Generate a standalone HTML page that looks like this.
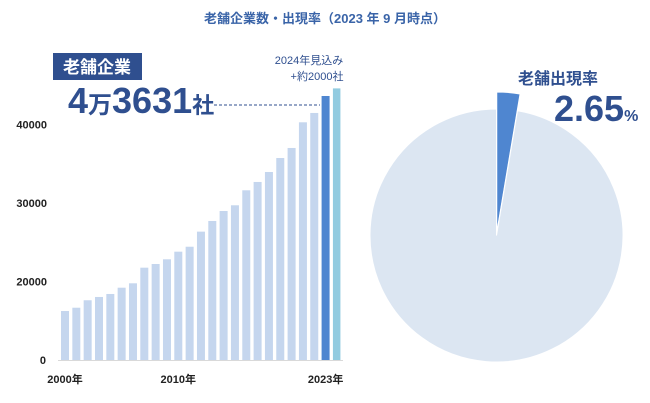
<!DOCTYPE html>
<html><head><meta charset="utf-8">
<style>
body{margin:0;width:650px;height:403px;background:#fff;overflow:hidden;font-family:"Liberation Sans","Noto Sans CJK JP",sans-serif;}
svg{display:block}
</style></head>
<body>
<svg width="650" height="403" viewBox="0 0 650 403" id="chart">
<text x="325" y="23" text-anchor="middle" font-size="13" font-weight="bold" fill="#3a64a8">老舗企業数・出現率（2023 年 9 月時点）</text>
<rect x="53" y="53" width="89" height="27" fill="#2f4f8f"/>
<text x="97" y="73" text-anchor="middle" font-size="17" font-weight="bold" fill="#fff">老舗企業</text>
<text x="68" y="113" font-size="36" font-weight="bold" fill="#2f4f8f">4<tspan font-size="24">万</tspan>3631<tspan font-size="22">社</tspan></text>
<line x1="214" y1="105" x2="320" y2="105" stroke="#2f4f8f" stroke-dasharray="3,2" stroke-width="1"/>
<text x="309" y="64" text-anchor="middle" font-size="11" fill="#2f4f8f">2024年見込み</text>
<text x="317" y="80" text-anchor="middle" font-size="11" fill="#2f4f8f">+約2000社</text>
<g id="bars"></g>
<g id="yticks"></g>
<g id="xlabels"></g>
<g id="pie"></g>
<text x="558" y="84" text-anchor="middle" font-size="16" font-weight="bold" fill="#2f4f8f">老舗出現率</text>
<text x="554" y="121" font-size="36" font-weight="bold" fill="#2f4f8f">2.65<tspan font-size="16">%</tspan></text>
</svg>
<script>
const years=["2000","2001","2002","2003","2004","2005","2006","2007","2008","2009","2010","2011","2012","2013","2014","2015","2016","2017","2018","2019","2020","2021","2022","2023","2024"];
const counts=[16240,16660,17610,18030,18410,19210,19770,21760,22230,22830,23800,24430,26350,27710,28980,29710,31620,32680,33950,35730,37010,40280,41470,43631,44600];
const tickValues=[10000,20000,30000,40000];
const tickLabels=["0","20000","30000","40000"];
const xLabelIdx=[0,10,23];
const xLabelText=["2000年","2010年","2023年"];
const pieShare=[2.65,97.35];
const NS="http://www.w3.org/2000/svg";
function y(v){return 360-(v-10000)*0.00785;}
function x(i){return 61+i*11.33;}
const bars=document.getElementById('bars');
const base=document.createElementNS(NS,'line');
base.setAttribute('x1',58);base.setAttribute('x2',343);base.setAttribute('y1',360.5);base.setAttribute('y2',360.5);base.setAttribute('stroke','#d9d9d9');


bars.appendChild(base);
counts.forEach((c,i)=>{
 const r=document.createElementNS(NS,'rect');
 r.setAttribute('x',x(i));r.setAttribute('width',i==24?7.5:8);
 r.setAttribute('y',y(c));r.setAttribute('height',360-y(c));
 r.setAttribute('fill',i==23?'#4f86d0':(i==24?'#92cbe0':'#c5d6ee'));
 
 
 bars.appendChild(r);
});
const yt=document.getElementById('yticks');
tickValues.forEach((v,i)=>{
 const t=document.createElementNS(NS,'text');
 t.setAttribute('x',i==0?46:47);t.setAttribute('y',y(v)+4);
 t.setAttribute('text-anchor','end');
 t.setAttribute('font-size','11');t.setAttribute('font-weight','bold');t.setAttribute('fill','#222');
 t.textContent=tickLabels[i];
 
 
 yt.appendChild(t);
});
const xl=document.getElementById('xlabels');
xLabelIdx.forEach((idx,i)=>{
 const t=document.createElementNS(NS,'text');
 t.setAttribute('x',x(idx)+4);t.setAttribute('y',383);t.setAttribute('text-anchor','middle');
 t.setAttribute('font-size','11');t.setAttribute('font-weight','bold');t.setAttribute('fill','#222');
 t.textContent=xLabelText[i];
 
 
 xl.appendChild(t);
});
const pie=document.getElementById('pie');
const cx=496.5,cy=235.5,R=126.5;
const total=pieShare[0]+pieShare[1];
let start=0;
pieShare.forEach((s,i)=>{
 const a0=start/total*2*Math.PI,a1=(start+s)/total*2*Math.PI;start+=s;
 let ox=0,oy=0,rr=R;
 if(i==0){const m=(a0+a1)/2;ox=Math.sin(m)*3;oy=-Math.cos(m)*3;rr=R+14;}
 const p=document.createElementNS(NS,'path');
 const x0=cx+ox+rr*Math.sin(a0),y0=cy+oy-rr*Math.cos(a0),x1=cx+ox+rr*Math.sin(a1),y1=cy+oy-rr*Math.cos(a1);
 p.setAttribute('d',`M${cx+ox},${cy+oy} L${x0},${y0} A${rr},${rr} 0 ${(a1-a0)>Math.PI?1:0} 1 ${x1},${y1} Z`);
 p.setAttribute('fill',i==0?'#4f86d0':'#dce6f2');
 p.setAttribute('stroke','#fff');p.setAttribute('stroke-width','1');
 
 
 pie.appendChild(p);
});
</script>
</body></html>
